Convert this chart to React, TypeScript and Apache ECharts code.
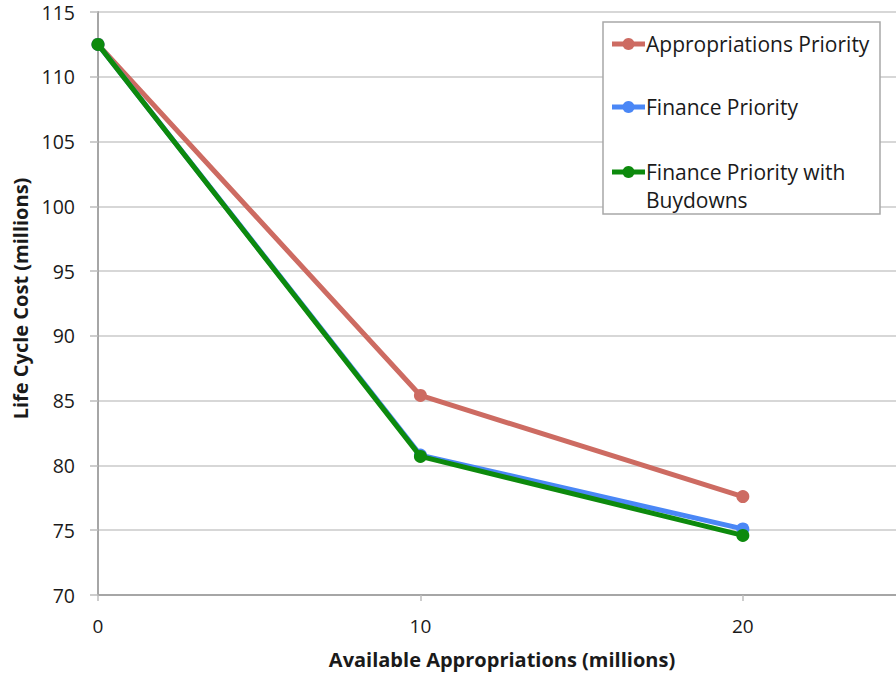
import React, { useEffect, useRef } from "react";
import * as echarts from "echarts";

const xValues = [0, 10, 20];
const xTickValues = [0, 10, 20];
const seriesNames = ["Appropriations Priority", "Finance Priority", "Finance Priority with\nBuydowns"];
const appropriationsPriority = [112.5, 85.4, 77.6];
const financePriority = [112.5, 80.8, 75.1];
const financeBuydowns = [112.5, 80.7, 74.6];
const colors = ["#cd6b62", "#4a87f6", "#0d8a0d"];
const yTicks = { min: 70, max: 115, interval: 5 };
const xAxisExtent = { min: 0, max: 24.75, interval: 10 };

const FONT = "'Open Sans', Lato, sans-serif";

export default function App() {
  const ref = useRef<HTMLDivElement>(null);
  useEffect(() => {
    if (!ref.current) return;
    const chart = echarts.init(ref.current, null, { renderer: "svg" });
    const allData = [appropriationsPriority, financePriority, financeBuydowns];
    const legendY = [44, 107, 172];
    const legendItems: any[] = [];
    legendItems.push({
      type: "rect",
      shape: { x: 603, y: 22, width: 277, height: 192 },
      style: { fill: "#ffffff", stroke: "#a8a8a8", lineWidth: 1.5 },
      z: 10,
    });
    seriesNames.forEach((n, i) => {
      legendItems.push({
        type: "line",
        shape: { x1: 612, y1: legendY[i], x2: 645, y2: legendY[i] },
        style: { stroke: colors[i], lineWidth: 5 },
        z: 11,
      });
      legendItems.push({
        type: "circle",
        shape: { cx: 628.5, cy: legendY[i], r: 6 },
        style: { fill: colors[i] },
        z: 11,
      });
      legendItems.push({
        type: "text",
        x: 646,
        y: legendY[i] - 14,
        style: {
          text: n,
          fill: "#1a1a1a",
          font: `21px ${FONT}`,
          lineHeight: 28,
          verticalAlign: "top",
        },
        z: 11,
      });
    });
    chart.setOption({
      animation: false,
      backgroundColor: "#ffffff",
      grid: { left: 98, right: 0, top: 12, bottom: 79, containLabel: false, outerBoundsMode: "none" },
      xAxis: {
        type: "value",
        min: xAxisExtent.min,
        max: xAxisExtent.max,
        interval: xAxisExtent.interval,
        name: "Available Appropriations (millions)",
        nameLocation: "middle",
        nameGap: 54,
        nameTextStyle: { fontFamily: FONT, fontWeight: "bold", fontSize: 20, color: "#1a1a1a", padding: [0, 0, 0, 10] },
        axisLine: { show: true, lineStyle: { color: "#a6a6a6", width: 2 } },
        axisTick: { show: true, length: 6, customValues: xTickValues, lineStyle: { color: "#bdbdbd", width: 1.5 } },
        axisLabel: {
          fontFamily: FONT,
          fontSize: 19,
          color: "#1a1a1a",
          margin: 21,
          customValues: xTickValues,
        },
        splitLine: { show: false },
      },
      yAxis: {
        type: "value",
        min: yTicks.min,
        max: yTicks.max,
        interval: yTicks.interval,
        name: "Life Cycle Cost (millions)",
        nameLocation: "middle",
        nameGap: 64,
        nameTextStyle: { fontFamily: FONT, fontWeight: "bold", fontSize: 20, color: "#1a1a1a", padding: [0, 0, 0, 10] },
        axisLine: { show: true, lineStyle: { color: "#a6a6a6", width: 2 } },
        axisTick: { show: true, length: 8, lineStyle: { color: "#bdbdbd", width: 1.5 } },
        axisLabel: { fontFamily: FONT, fontSize: 19.5, color: "#1a1a1a", margin: 23 },
        splitLine: { show: true, lineStyle: { color: "#cacaca", width: 1.5 } },
      },
      series: seriesNames.map((n, i) => ({
        name: n,
        type: "line",
        data: xValues.map((x, j) => [x, allData[i][j]]),
        symbol: "circle",
        symbolSize: 13,
        showSymbol: true,
        lineStyle: { color: colors[i], width: 5 },
        itemStyle: { color: colors[i] },
        z: 2 + i,
      })),
      graphic: legendItems,
    });
    return () => chart.dispose();
  }, []);
  return (
    <div
      ref={ref}
      style={{ position: "absolute", left: 0, top: 0, width: 896, height: 674 }}
    />
  );
}
